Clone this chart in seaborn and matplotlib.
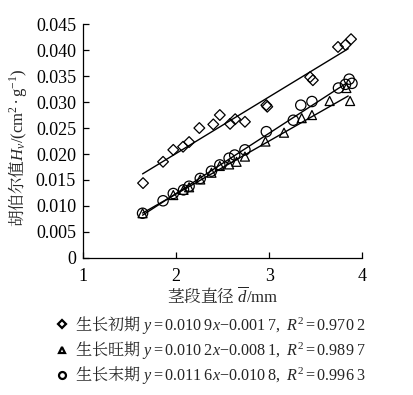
import matplotlib
matplotlib.use("Agg")
import matplotlib.pyplot as plt
from matplotlib.lines import Line2D
import numpy as np
import pandas as pd
import seaborn as sns

# 生长初期 (diamonds)
x_init = [1.645, 1.86, 1.97, 2.075, 2.14, 2.25, 2.40, 2.47, 2.58, 2.635, 2.74,
          2.97, 2.98, 3.44, 3.47, 3.74, 3.82, 3.88]
h_init = [0.0144, 0.0185, 0.0208, 0.0214, 0.0223, 0.0250, 0.0257, 0.0275, 0.0258,
          0.0267, 0.0262, 0.0294, 0.0291, 0.0348, 0.0342, 0.0406, 0.0410, 0.0421]
# 生长旺期 (triangles)
x_peak = [1.64, 1.97, 2.08, 2.14, 2.26, 2.38, 2.47, 2.57, 2.65, 2.74, 2.96, 3.16,
          3.35, 3.46, 3.65, 3.83, 3.87]
h_peak = [0.0086, 0.0121, 0.0131, 0.0136, 0.0151, 0.0164, 0.0177, 0.0180, 0.0185,
          0.0195, 0.0224, 0.0241, 0.0269, 0.0275, 0.0302, 0.0327, 0.0302]
# 生长末期 (circles)
x_late = [1.64, 1.86, 1.97, 2.08, 2.14, 2.26, 2.38, 2.47, 2.57, 2.63, 2.74, 2.97,
          3.26, 3.34, 3.46, 3.745, 3.82, 3.86, 3.89]
h_late = [0.0086, 0.0110, 0.0124, 0.0131, 0.0138, 0.0153, 0.0167, 0.0179, 0.0192,
          0.0198, 0.0208, 0.0243, 0.0265, 0.0294, 0.0301, 0.0327, 0.0334, 0.0344, 0.0336]

# fitted lines: slope, intercept, x range
fits = {
    "init": (0.0109, -0.0017, 1.64, 3.85),
    "peak": (0.0102, -0.0081, 1.64, 3.85),
    "late": (0.0116, -0.0108, 1.64, 3.83),
}
labels = [
    r"生长初期 $y{=}0.010\;9x{-}0.001\;7,\ R^2{=}0.970\;2$",
    r"生长旺期 $y{=}0.010\;2x{-}0.008\;1,\ R^2{=}0.989\;7$",
    r"生长末期 $y{=}0.011\;6x{-}0.010\;8,\ R^2{=}0.996\;3$",
]

sns.set_theme(style="ticks")
plt.rcParams["font.family"] = ["Liberation Serif", "Noto Serif CJK SC",
                               "Noto Sans CJK SC", "DejaVu Sans"]
plt.rcParams["mathtext.fontset"] = "custom"
plt.rcParams["mathtext.rm"] = "Liberation Serif"
plt.rcParams["mathtext.it"] = "Liberation Serif:italic"
plt.rcParams["axes.unicode_minus"] = False
cjk = ["Noto Serif CJK SC", "Noto Sans CJK SC"]

fig = plt.figure(figsize=(4.13, 3.95), dpi=100)
ax = fig.add_axes([0.201, 0.347, 0.676, 0.592])

df = pd.concat([
    pd.DataFrame({"d": x_init, "h": h_init, "stage": "init"}),
    pd.DataFrame({"d": x_peak, "h": h_peak, "stage": "peak"}),
    pd.DataFrame({"d": x_late, "h": h_late, "stage": "late"}),
])

for key, (k, b, x0, x1) in fits.items():
    xs = np.array([x0, x1])
    sns.lineplot(x=xs, y=k * xs + b, ax=ax, color="black", lw=1.0)

marks = {"init": ("D", 30), "peak": ("^", 42), "late": ("o", 55)}
for key, (m, s) in marks.items():
    sub = df[df.stage == key]
    sns.scatterplot(data=sub, x="d", y="h", marker=m, s=s, facecolor="none",
                    edgecolor="black", linewidth=0.9, ax=ax, zorder=3)

ax.set_xlim(1, 4)
ax.set_ylim(0, 0.045)
ax.set_xticks([1, 2, 3, 4])
ax.set_yticks(np.arange(0, 0.0451, 0.005))
ax.set_yticklabels(["0"] + ["%.3f" % v for v in np.arange(0.005, 0.0451, 0.005)])
ax.tick_params(direction="in", length=4.5, width=0.9, labelsize=13, colors="black",
               pad=5)
ax.tick_params(axis="x", pad=7)
for sp in ["left", "bottom"]:
    ax.spines[sp].set_linewidth(0.9)
    ax.spines[sp].set_color("black")
sns.despine(ax=ax)

ax.set_xlabel(r"茎段直径 $\overline{d}/\mathrm{mm}$", fontsize=12, labelpad=1,
              family=cjk)
ax.set_ylabel(r"胡伯尔值$H_v/(\mathrm{cm}^2\bullet\mathrm{g}^{-1})$", fontsize=12,
              family=cjk)
ax.yaxis.set_label_coords(-0.195, 0.47)

handles = [
    Line2D([], [], ls="none", marker="D", ms=4, mfc="white", mec="black", mew=1.6),
    Line2D([], [], ls="none", marker="^", ms=5, mfc="white", mec="black", mew=1.6),
    Line2D([], [], ls="none", marker="o", ms=5, mfc="white", mec="black", mew=1.6),
]
fig.legend(handles, labels, loc="upper left", bbox_to_anchor=(0.135, 0.205),
           frameon=False, prop={"family": cjk, "size": 11.6}, handlelength=0.8,
           handletextpad=0.4, labelspacing=0.2, borderpad=0, borderaxespad=0)

fig.savefig("out.png", dpi=100)
